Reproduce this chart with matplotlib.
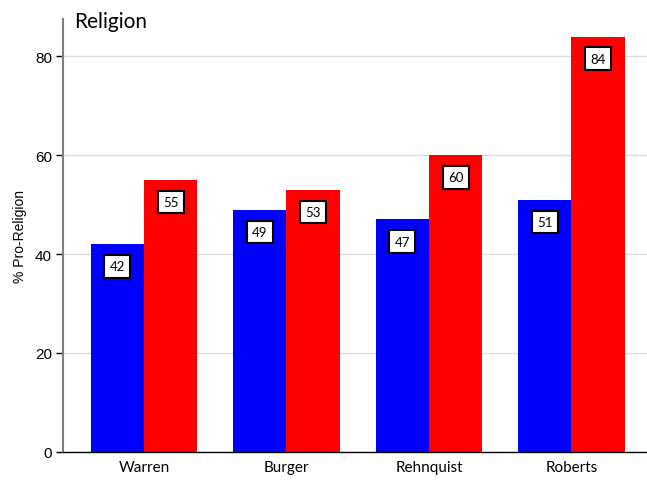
import numpy as np
import matplotlib.pyplot as plt

courts = ['Warren', 'Burger', 'Rehnquist', 'Roberts']
blue_vals = [42, 49, 47, 51]
red_vals = [55, 53, 60, 84]

fig = plt.figure(figsize=(6.47, 4.81), dpi=100)
ax = fig.add_axes([0.0974, 0.0585, 0.9026, 0.8995])

x = np.arange(len(courts))
w = 0.375
b1 = ax.bar(x - w / 2, blue_vals, w, color='#0000ff', zorder=2)
b2 = ax.bar(x + w / 2, red_vals, w, color='#ff0000', zorder=2)

# boxed value labels just under each bar top
for bars, vals in [(b1, blue_vals), (b2, red_vals)]:
    for bar, v in zip(bars, vals):
        ax.annotate(str(v), (bar.get_x() + bar.get_width() / 2, v),
                    xytext=(0, -16), textcoords='offset points',
                    ha='center', va='center', fontsize=9.5, family='Lato',
                    bbox=dict(boxstyle='square,pad=0.4', fc='white', ec='black', lw=1.5),
                    zorder=3)

ax.set_xlim(-0.568, 3.53)
ax.set_ylim(0, 87.5)
ax.set_yticks([0, 20, 40, 60, 80])
ax.set_xticks(x)
ax.set_xticklabels(courts, family='Lato', fontsize=11)
ax.tick_params(axis='x', length=0, pad=6)
ax.tick_params(axis='y', labelsize=11, length=5, width=1, pad=3)
for lab in ax.get_yticklabels():
    lab.set_family('Liberation Sans')
ax.yaxis.grid(True, color='#dddddd', lw=1, zorder=0)
ax.set_axisbelow(True)

ax.spines['top'].set_visible(False)
ax.spines['right'].set_visible(False)
ax.spines['left'].set_color('#808080')
ax.spines['left'].set_linewidth(1.5)
ax.spines['bottom'].set_color('black')
ax.spines['bottom'].set_linewidth(1)

ax.set_ylabel('% Pro-Religion', fontsize=10, family='Liberation Sans', labelpad=6)
fig.text(0.115, 0.955, 'Religion', fontsize=15, family='Lato', va='center', ha='left')

fig.savefig('out.png', dpi=100)
